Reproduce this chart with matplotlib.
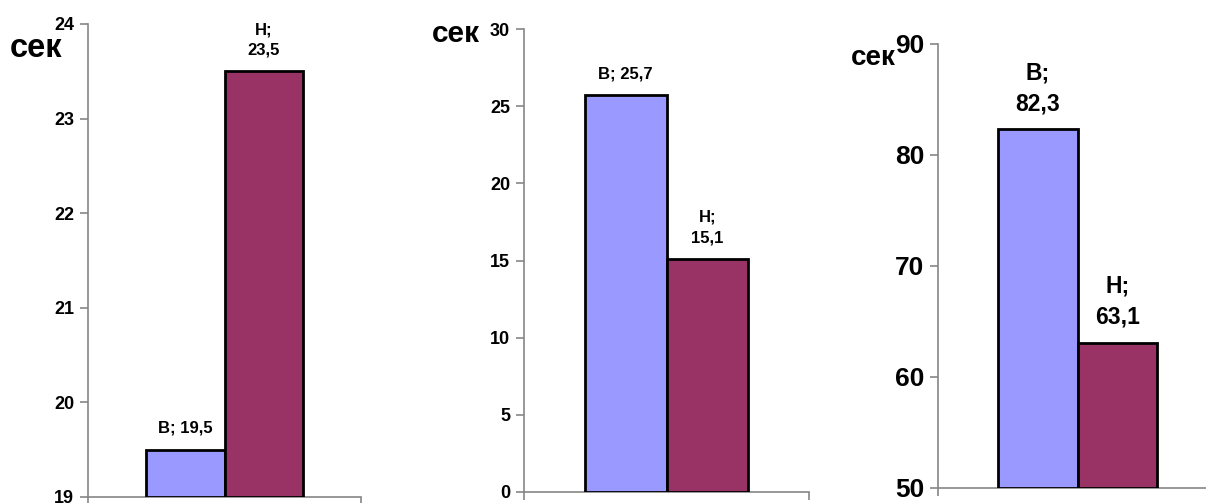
import numpy as np
import matplotlib.pyplot as plt

plt.rcParams['font.family'] = ['Liberation Sans', 'DejaVu Sans']
plt.rcParams['font.weight'] = 'bold'

# data
cats = ["В", "Н"]
vals1 = [19.5, 23.5]
vals2 = [25.7, 15.1]
vals3 = [82.3, 63.1]
lims = [(19, 24), (0, 30), (50, 90)]
steps = [1, 5, 10]
labels1 = ["В; 19,5", "Н;\n23,5"]
labels2 = ["В; 25,7", "Н;\n15,1"]
labels3 = ["В;\n82,3", "Н;\n63,1"]

colors = ["#9999FF", "#993366"]
grey = "#868686"

fig = plt.figure(figsize=(12.06, 5.03), dpi=100)

# axes boxes in figure fractions
boxes = [
    [88/1206, 6/503, 273/1206, 473/503],
    [524/1206, 11/503, 285/1206, 463/503],
    [938/1206, 15/503, 279/1206, 444/503],
]
tick_fs = [13, 13, 19]
lab_fs = [12, 12, 16.5]
# "сек" label: x centre, baseline y (pixels from top), size
sek = [(36, 57, 23.5), (456, 42, 21.5), (873, 65, 20)]

all_vals = [vals1, vals2, vals3]
all_labels = [labels1, labels2, labels3]

for i in range(3):
    ax = fig.add_axes(boxes[i])
    x = np.arange(len(cats))
    lo, hi = lims[i]
    bars = ax.bar(x, np.array(all_vals[i]) - lo, bottom=lo, width=1.0,
                  color=colors, edgecolor="black", linewidth=2, zorder=3)
    ax.set_xlim(-1.245, 2.245)
    ax.set_ylim(lo, hi)
    ax.set_yticks(np.arange(lo, hi + 0.01, steps[i]))
    ax.set_xticks([-1.245, 2.245])
    ax.set_xticklabels([])
    for s in ["top", "right"]:
        ax.spines[s].set_visible(False)
    for s in ["left", "bottom"]:
        ax.spines[s].set_color(grey)
        ax.spines[s].set_linewidth(1.2)
        ax.spines[s].set_clip_on(False)
    ax.tick_params(axis="y", direction="out", length=6, width=1.2,
                   color=grey, labelsize=tick_fs[i], pad=4)
    ax.tick_params(axis="x", direction="out", length=6, width=1.2,
                   color=grey)
    for lbl in ax.get_yticklabels():
        lbl.set_fontweight("bold")
    for j, b in enumerate(bars):
        ax.annotate(all_labels[i][j], (b.get_x() + b.get_width() / 2, all_vals[i][j]),
                    xytext=(0, 10), textcoords="offset points",
                    ha="center", va="bottom", fontsize=lab_fs[i],
                    fontweight="bold", linespacing=1.45)
    sx, sy, sfs = sek[i]
    fig.text(sx / 1206, 1 - sy / 503, "сек", ha="center", va="baseline",
             fontsize=sfs, fontweight="bold")

plt.savefig("out.png", dpi=100)
